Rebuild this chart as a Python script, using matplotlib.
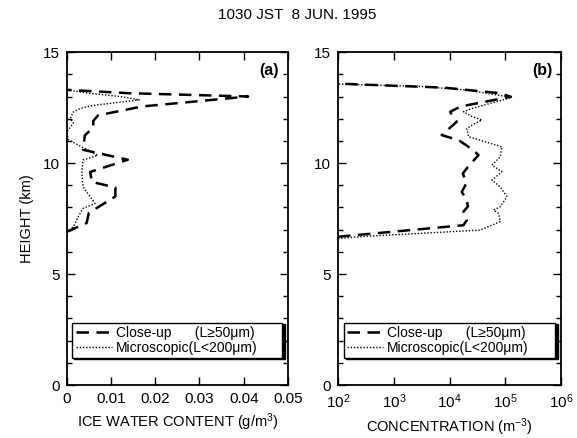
import numpy as np
import matplotlib
matplotlib.use("Agg")
import matplotlib.pyplot as plt
from matplotlib.ticker import MultipleLocator, LogLocator, NullLocator

plt.rcParams['font.family'] = ['Liberation Sans', 'DejaVu Sans']
plt.rcParams['mathtext.fontset'] = 'custom'
plt.rcParams['mathtext.rm'] = 'Liberation Sans'
plt.rcParams['mathtext.it'] = 'Liberation Sans'

# (a) ice water content (g/m^3) vs height (km)
iwc_close_h = [6.9, 7.3, 7.75, 8.5, 8.9, 9.15, 9.6, 10.15, 10.6, 11.25, 11.6, 11.9,
               12.15, 12.55, 13.0, 13.15, 13.3]
iwc_close = [0.0, 0.0045, 0.005, 0.011, 0.011, 0.0057, 0.0053, 0.0138, 0.0037, 0.0041,
             0.006, 0.006, 0.0071, 0.017, 0.041, 0.014, 0.0]
iwc_micro_h = [6.9, 7.13, 7.58, 7.96, 8.18, 8.48, 8.93, 9.54, 10.14, 10.35, 10.73, 11.05,
               11.4, 11.8, 12.0, 12.3, 12.46, 12.6, 12.85, 13.0, 13.15, 13.3]
iwc_micro = [0.0, 0.0015, 0.0026, 0.0037, 0.0064, 0.0053, 0.0037, 0.0034, 0.0037, 0.007,
             0.0034, 0.0004, 0.0, 0.0015, 0.0008, 0.0015, 0.003, 0.006, 0.0165, 0.012,
             0.005, 0.0]
iwc_ticks = [0, 0.01, 0.02, 0.03, 0.04, 0.05]
iwc_ticklabels = ['0', '0.01', '0.02', '0.03', '0.04', '0.05']

# (b) concentration (m^-3), log10 values
con_close_h = [6.68, 6.75, 7.2, 7.43, 7.81, 8.05, 8.33, 8.7, 9.08, 9.53, 9.83, 10.36, 10.58,
               11.04, 11.26, 11.86, 12.31, 12.55, 12.99, 13.15, 13.4, 13.58]
con_close_log = [2.0, 2.3, 4.25, 4.31, 4.25, 4.33, 4.31, 4.22, 4.3, 4.24, 4.33, 4.52, 4.43,
                 4.16, 3.86, 4.13, 4.01, 4.2, 5.1, 4.9, 3.9, 2.0]
con_micro_h = [6.6, 6.7, 6.98, 7.36, 7.73, 7.88, 8.03, 8.48, 8.93, 9.23, 9.61, 9.91, 10.28,
               10.73, 11.19, 11.56, 11.75, 11.94, 12.1, 12.31, 12.46, 12.96, 13.29, 13.45, 13.56]
con_micro_log = [2.0, 2.5, 4.55, 4.91, 4.88, 4.79, 4.91, 5.03, 4.91, 4.76, 4.94, 4.76, 4.91,
                 4.94, 4.34, 4.31, 4.43, 4.58, 4.4, 4.25, 4.4, 5.12, 4.31, 3.5, 2.0]

lab_close = 'Close-up      (L\u226550\u03bcm)'
lab_micro = 'Microscopic(L<200\u03bcm)'

fig = plt.figure(figsize=(5.77, 4.38), dpi=100)
ax1 = fig.add_axes([0.1156, 0.121, 0.3835, 0.760])
ax2 = fig.add_axes([0.5858, 0.121, 0.3865, 0.760])

dash = (0, (5, 3))
dots = (0, (1, 1.3))
ax1.plot(iwc_close, iwc_close_h, color='black', lw=1.8, linestyle=dash, label=lab_close)
ax1.plot(iwc_micro, iwc_micro_h, color='black', lw=1.0, linestyle=dots, label=lab_micro)
ax2.plot(10 ** np.array(con_close_log), con_close_h, color='black', lw=1.8, linestyle=dash,
         label=lab_close)
ax2.plot(10 ** np.array(con_micro_log), con_micro_h, color='black', lw=1.0,
         linestyle=dots, label=lab_micro)

ax1.set_xlim(0, 0.05)
ax1.set_xticks(iwc_ticks)
ax1.set_xticklabels(iwc_ticklabels)
ax2.set_xscale('log')
ax2.set_xlim(1e2, 1e6)
ax2.xaxis.set_major_locator(LogLocator(base=10, numticks=10))
ax2.xaxis.set_minor_locator(NullLocator())

for ax in (ax1, ax2):
    ax.set_ylim(0, 15)
    ax.yaxis.set_major_locator(MultipleLocator(5))
    ax.yaxis.set_minor_locator(MultipleLocator(1))
    ax.tick_params(which='both', direction='in', top=True, right=True, labelsize=11, pad=5)
    ax.tick_params(which='major', length=6, width=1)
    ax.tick_params(which='minor', length=3.5, width=1)
    for s in ax.spines.values():
        s.set_linewidth(1.3)
    leg = ax.legend(loc='lower left', bbox_to_anchor=(0.025, 0.08, 0.95, 0.12), mode='expand',
                    fancybox=False, edgecolor='black', framealpha=1, fontsize=10,
                    handlelength=2.6, handletextpad=0.3, borderpad=0.25, labelspacing=0.05,
                    borderaxespad=0, shadow={'color': 'black', 'alpha': 1, 'ox': 1.5, 'oy': -0.6})
    leg.get_frame().set_linewidth(1.0)

ax1.set_xlabel('ICE WATER CONTENT (g/m$^3$)', fontsize=10.5, labelpad=4)
ax2.set_xlabel('CONCENTRATION (m$^{-3}$)', fontsize=10.5, labelpad=4)
ax1.set_ylabel('HEIGHT (km)', fontsize=10.5, labelpad=6)

ax1.text(0.96, 0.945, '(a)', transform=ax1.transAxes, ha='right', va='center',
         fontsize=11.5, fontweight='bold')
ax2.text(0.96, 0.945, '(b)', transform=ax2.transAxes, ha='right', va='center',
         fontsize=11.5, fontweight='bold')

fig.text(0.515, 0.966, '1030 JST  8 JUN. 1995', ha='center', va='center', fontsize=11)

fig.savefig('out.png', dpi=100)
